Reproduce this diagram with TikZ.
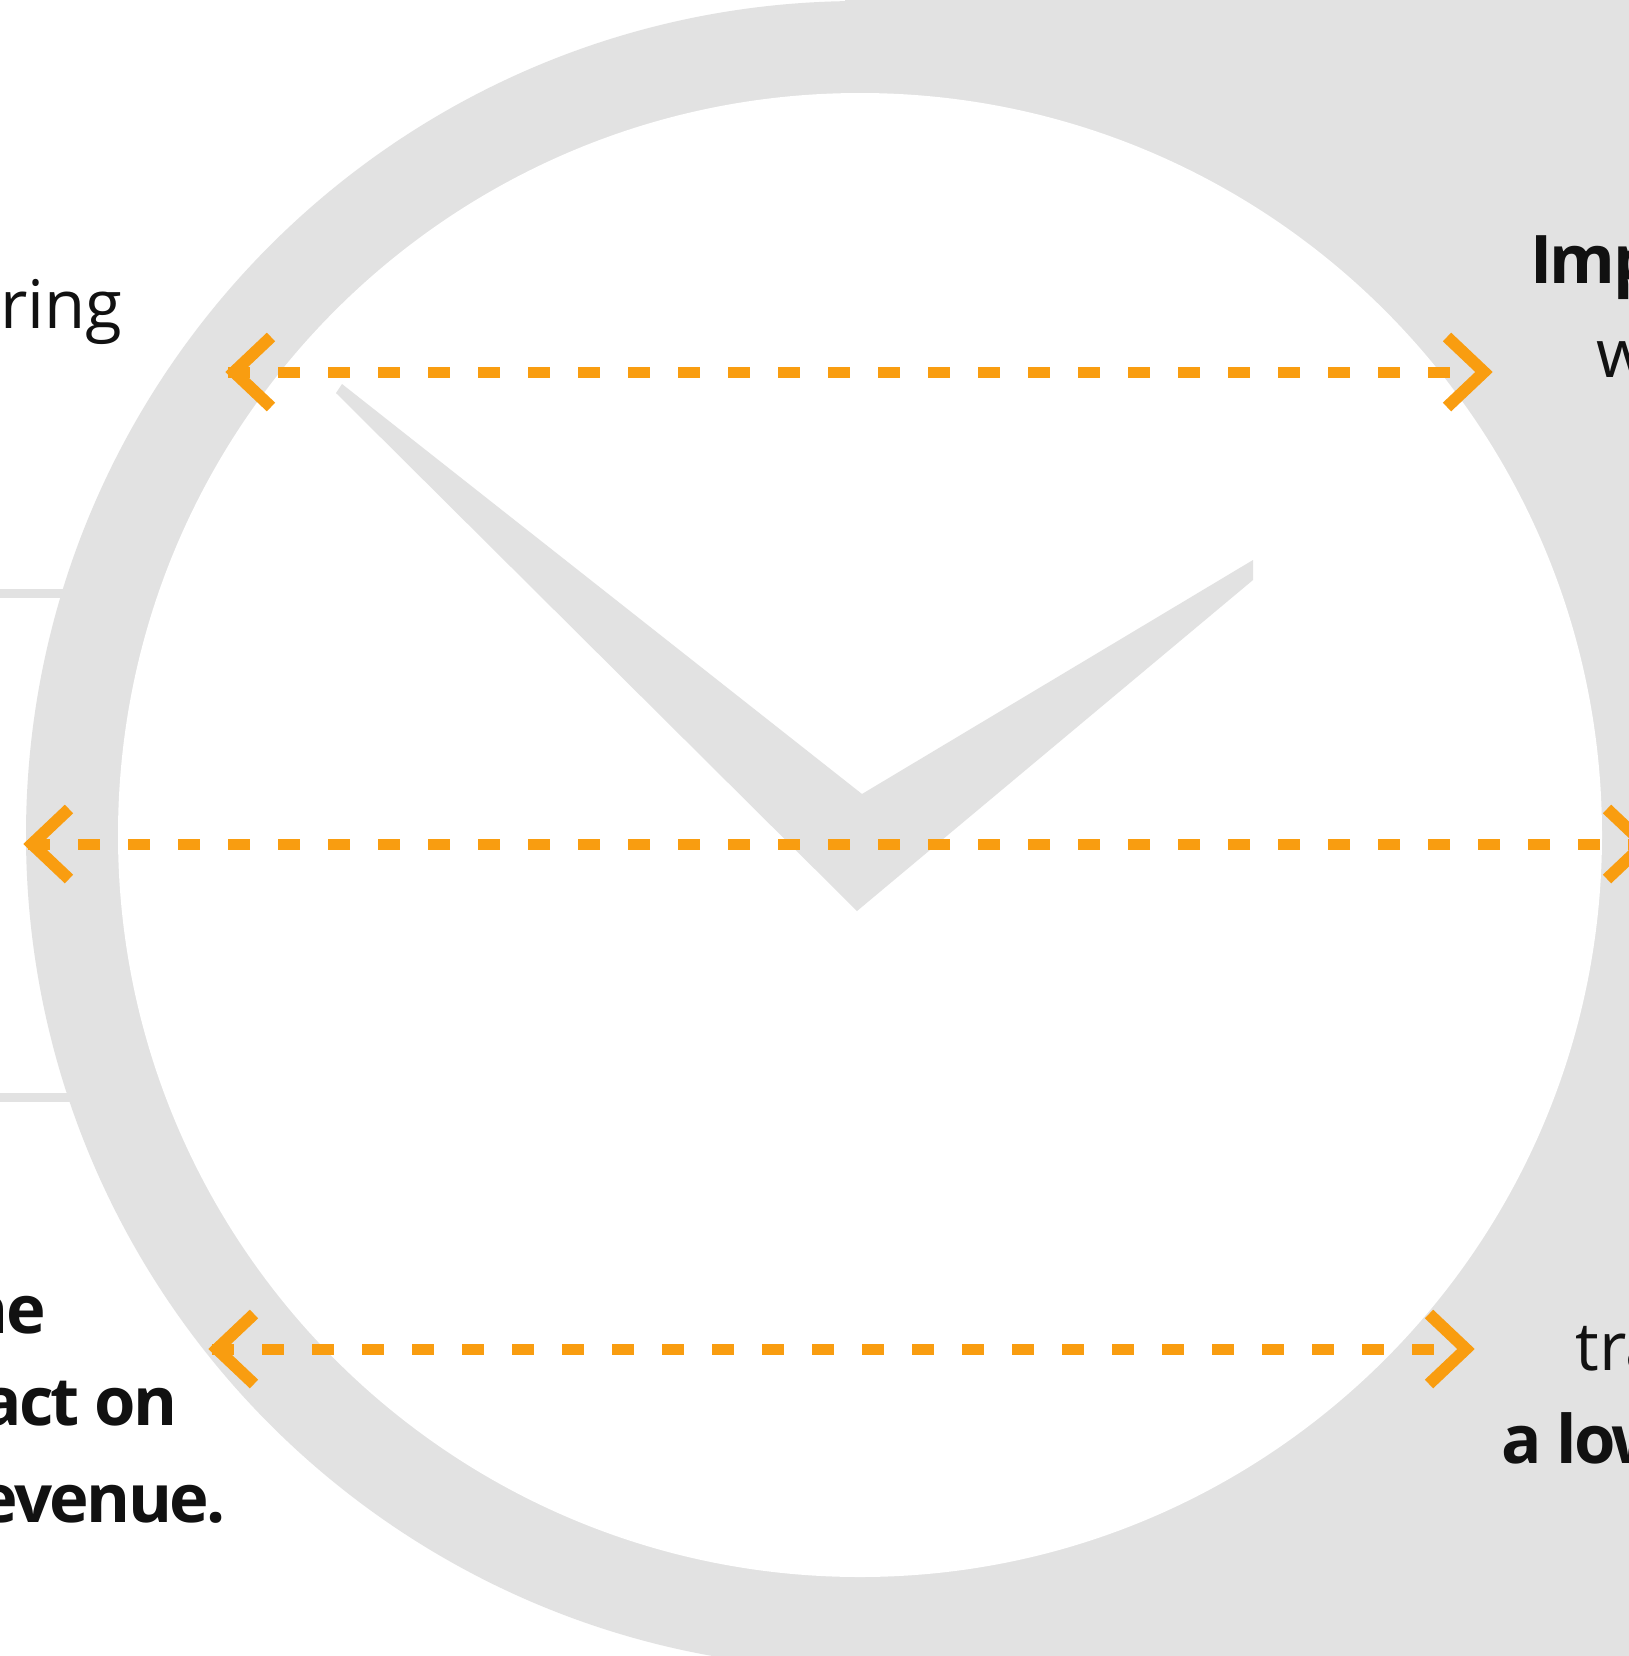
\documentclass[tikz,border=0pt]{standalone}
\usepackage{fontspec}
\setmainfont{Open Sans}
\newfontfamily\tightsans[LetterSpace=-4]{Open Sans}
\usetikzlibrary{calc}
\definecolor{ringgray}{HTML}{E2E2E2}
\definecolor{accent}{HTML}{F99D10}
\definecolor{ink}{HTML}{111111}
\begin{document}
\begin{tikzpicture}[x=0.5pt,y=-0.5pt,
  dashline/.style={draw=accent,line width=5.5pt,dash pattern=on 11pt off 14pt},
  chev/.style={draw=accent,line width=6pt,miter limit=10,line join=miter},
  lbl/.style={inner sep=0pt,text=ink,font=\fontsize{33.5}{40}\selectfont},
  lblb/.style={inner sep=0pt,text=ink,font=\fontsize{33.5}{40}\selectfont\tightsans\bfseries}]
\useasboundingbox (0,0) rectangle (1629,1656);
\fill[white] (0,0) rectangle (1629,1656);
% grey dial
\fill[ringgray] (0,589) rectangle (100,598);
\fill[ringgray] (0,1093) rectangle (100,1102);
\fill[ringgray] (860,835) circle[radius=834];
\fill[ringgray] (845,0) rectangle (1629,1656);
\fill[white] (860,835) circle[radius=742];
% hands
\fill[ringgray] (342,384) -- (862,794) -- (1253,560) -- (1253,580) -- (857,911) -- (336,393) -- cycle;
% labels
\node[lbl,anchor=base west] (t1) at (0,328) {ring};
\node[lblb,anchor=base west] (t2) at (1530,283) {Imp};
\node[lbl,anchor=base west] (t3) at (1596,377) {w};
\node[lblb,anchor=base east] (t4) at (46,1333) {ne};
\node[lblb,anchor=base east] (t5) at (178,1425) {act on};
\node[lblb,anchor=base east] (t6) at (226,1522) {evenue.};
\node[lbl,anchor=base west] (t7) at (1575,1370) {tra};
\node[lblb,anchor=base west] (t8) at (1501,1463) {a low};
% arrow coordinates
\coordinate (topLv) at (234,372);
\coordinate (topRv) at (1484,372);
\coordinate (topA) at (228,372);
\coordinate (topB) at (1450,372);
\coordinate (midLv) at (32,844);
\coordinate (midRv) at (1644,844);
\coordinate (midA) at (28,844);
\coordinate (midB) at (1660,844);
\coordinate (botLv) at (217,1349);
\coordinate (botRv) at (1466,1349);
\coordinate (botA) at (212,1349);
\coordinate (botB) at (1434,1349);
% dashed lines
\draw[dashline] (topA) -- (topB);
\draw[dashline] (midA) -- (midB);
\draw[dashline] (botA) -- (botB);
% chevrons
\foreach \v in {topLv,midLv,botLv}{
  \draw[chev] (\v) ++(37,-35) -- (\v) -- ++(37,35);
}
\foreach \v in {topRv,midRv,botRv}{
  \draw[chev] (\v) ++(-37,-35) -- (\v) -- ++(-37,35);
}
\end{tikzpicture}
\end{document}
